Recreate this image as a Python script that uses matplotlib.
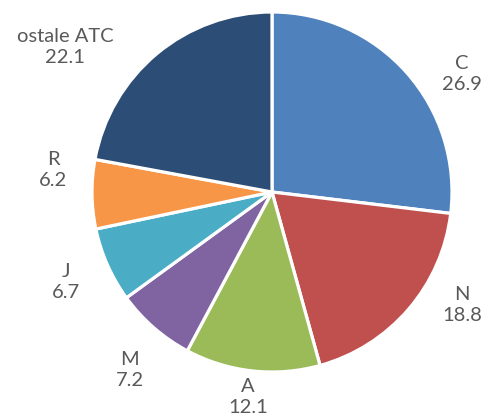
import numpy as np
import matplotlib.pyplot as plt

# data
labels = ['C', 'N', 'A', 'M', 'J', 'R', 'ostale ATC']
values = [26.9, 18.8, 12.1, 7.2, 6.7, 6.2, 22.1]
colors = ['#4F81BD', '#C0504D', '#9BBB59', '#8064A2', '#4BACC6', '#F79646', '#2C4D75']

# label centres relative to pie centre, in pixels (x right, y up)
label_offsets = [(190, 118), (190, -113), (-24, -205), (-142, -178),
                 (-206, -90), (-219, 22), (-207, 145)]

W, H = 488, 419
cx, cy = 272, H - 192
R = 180

fig = plt.figure(figsize=(W / 100, H / 100), dpi=100)
ax = fig.add_axes([0, 0, 1, 1])
ax.pie(values, colors=colors, startangle=90, counterclock=False,
       center=(cx, cy), radius=R, frame=True,
       wedgeprops={'edgecolor': 'white', 'linewidth': 2.3})
ax.set_xlim(0, W)
ax.set_ylim(0, H)
ax.axis('off')

for lab, val, (dx, dy) in zip(labels, values, label_offsets):
    ax.text(cx + dx, cy + dy, f'{lab}\n{val}', ha='center', va='center',
            fontsize=14.5, color='#595959', linespacing=1.3,
            family=['Lato', 'DejaVu Sans'])

fig.savefig('out.png', dpi=100)
